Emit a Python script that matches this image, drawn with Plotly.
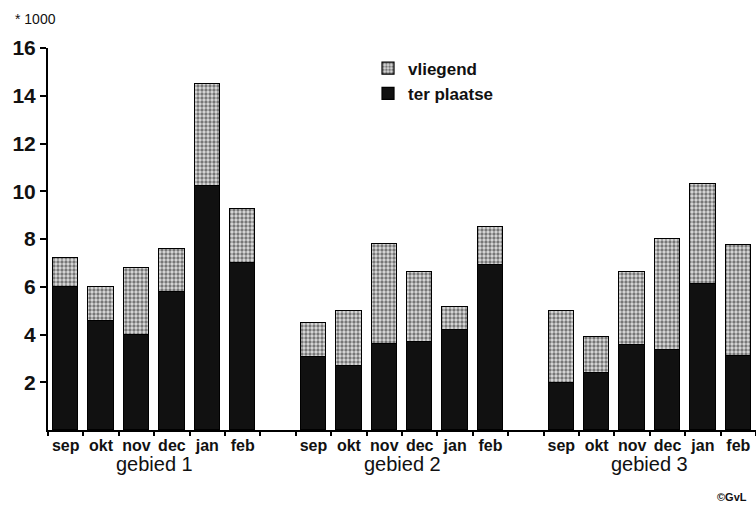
import plotly.graph_objects as go

months = ["sep", "okt", "nov", "dec", "jan", "feb"]
groups = ["gebied 1", "gebied 2", "gebied 3"]
# totals per bar (in thousands)
totaal = [7.2, 6.0, 6.8, 7.6, 14.5, 9.25,
          4.5, 5.0, 7.8, 6.6, 5.15, 8.5,
          5.0, 3.9, 6.6, 8.0, 10.3, 7.75]
ter_plaatse = [6.0, 4.55, 4.0, 5.8, 10.2, 7.0,
               3.05, 2.7, 3.6, 3.7, 4.2, 6.9,
               1.95, 2.4, 3.55, 3.35, 6.1, 3.1]
vliegend = [round(t - p, 2) for t, p in zip(totaal, ter_plaatse)]

# x positions: 6 bars per group, one empty slot between groups
xpos = [g * 7 + m for g in range(3) for m in range(6)]
xlabels = months * 3

FONT = "Liberation Sans, Arial, sans-serif"

fig = go.Figure()
fig.add_trace(go.Bar(
    x=xpos, y=ter_plaatse, name="ter plaatse", width=0.72,
    marker=dict(color="#111111", line=dict(color="#000000", width=1.2)),
))
fig.add_trace(go.Bar(
    x=xpos, y=vliegend, name="vliegend", width=0.72,
    marker=dict(color="white", line=dict(color="#000000", width=1.2),
                pattern=dict(shape=".", fgcolor="#111111", bgcolor="#dddddd",
                             size=4, solidity=0.55)),
))

for i, g in enumerate(groups):
    fig.add_annotation(x=i * 7 + 2.5, y=-0.09, xref="x", yref="paper",
                       text=g, showarrow=False, yanchor="middle",
                       font=dict(family=FONT, size=20, color="#111111"))

fig.add_annotation(x=-0.05, y=1.075, xref="paper", yref="paper",
                   text="* 1000", showarrow=False, xanchor="left", yanchor="middle",
                   font=dict(family=FONT, size=14, color="#111111"))
fig.add_annotation(x=0.99, y=-0.175, xref="paper", yref="paper",
                   text="<b>©GvL</b>", showarrow=False, xanchor="right", yanchor="middle",
                   font=dict(family=FONT, size=11, color="#111111"))

fig.update_layout(
    width=756, height=511,
    margin=dict(l=48, r=0, t=48, b=81, autoexpand=False),
    paper_bgcolor="white", plot_bgcolor="white",
    barmode="stack", bargap=0,
    font=dict(family=FONT, color="#111111"),
    legend=dict(x=0.452, y=0.993, xanchor="left", yanchor="top",
                traceorder="reversed", bgcolor="rgba(0,0,0,0)",
                font=dict(family=FONT, size=17, color="#111111", weight="bold"),
                itemwidth=30, tracegroupgap=0),
    showlegend=True,
)
fig.update_xaxes(
    range=[-0.5, 19.5], tickmode="array", tickvals=xpos, ticktext=xlabels,
    ticks="", showgrid=False, zeroline=False, automargin=False,
    showline=True, linecolor="#000000", linewidth=2,
    tickfont=dict(family=FONT, size=16, color="#111111", weight="bold"),
    minor=dict(tickmode="array", tickvals=[i - 0.5 for i in range(21)],
               ticks="outside", ticklen=4, tickwidth=2, tickcolor="#000000",
               showgrid=False),
)
fig.update_yaxes(
    range=[0, 16], tickmode="array", tickvals=list(range(2, 17, 2)),
    ticks="outside", ticklen=6, tickwidth=2, tickcolor="#000000",
    showgrid=False, zeroline=False, automargin=False,
    showline=True, linecolor="#000000", linewidth=2,
    tickfont=dict(family=FONT, size=21, color="#111111", weight="bold"),
)

fig.write_html("out.html", config={"displayModeBar": False},
               post_script="document.body.style.margin='0';")
